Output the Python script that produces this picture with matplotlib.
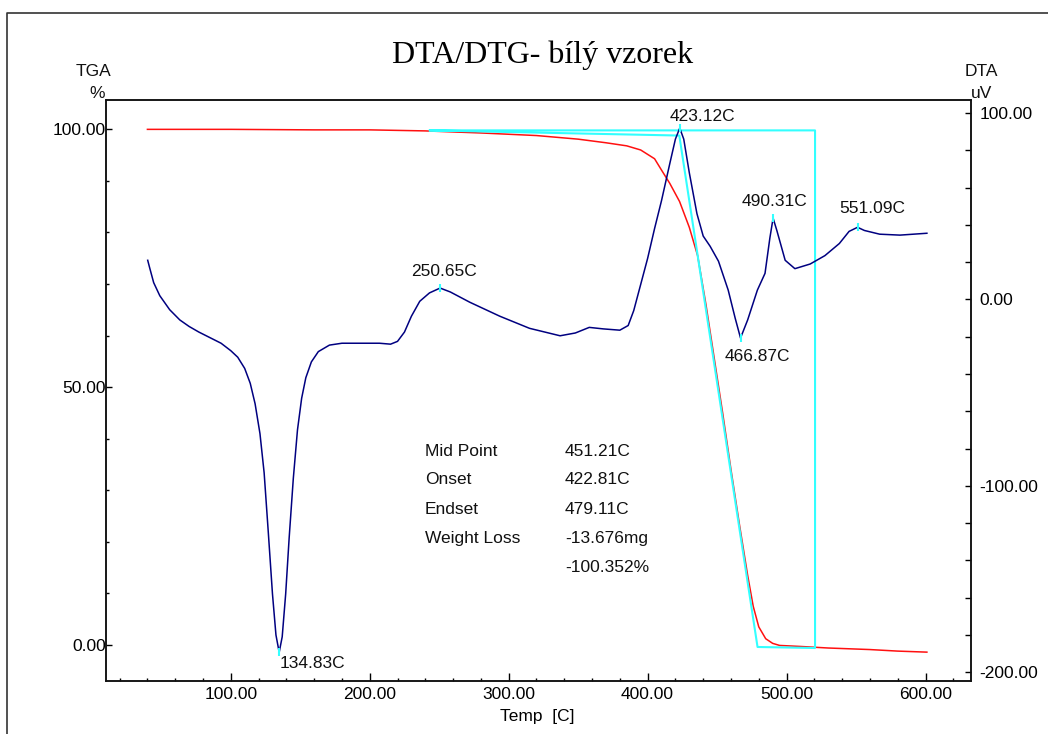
import matplotlib
matplotlib.use("Agg")
import matplotlib.pyplot as plt
from matplotlib.lines import Line2D
from matplotlib.ticker import MultipleLocator

plt.rcParams['font.family'] = ['Liberation Sans', 'DejaVu Sans']

# TGA curve (left axis, %)
tga_temp = [40, 100, 160, 200, 240, 280, 320, 350, 370, 385, 395, 405, 410, 416,
            423, 430, 436, 442, 448, 454, 460, 466, 472, 476, 480, 485, 490, 495,
            510, 530, 560, 580, 601]
tga_val = [100, 100, 99.9, 99.9, 99.7, 99.3, 98.8, 98.1, 97.4, 96.8, 96.0, 94.3, 92.1, 89.5,
           86.0, 81.0, 75.5, 66.0, 55.5, 45.0, 34.0, 23.5, 13.5, 7.5, 3.5, 1.2, 0.3, -0.1,
           -0.3, -0.6, -0.9, -1.2, -1.4]

# DTA curve (right axis, uV)
dta_temp = [40.2, 41.6, 44.5, 48.9, 56, 63.3, 70, 77, 85, 93, 100, 105, 110, 114, 117.5,
            121, 124, 127, 130, 132.5, 134.83, 137, 139.5, 142, 145, 148, 151, 154, 158,
            163, 171, 180, 195, 207, 215, 220, 225, 230, 236, 243, 250.65, 258, 272,
            293.6, 315, 337, 348, 358, 368, 380, 386, 390, 395, 400, 405, 410, 416, 420,
            423.12, 426, 430, 435.5, 440, 445, 451, 458, 463, 466.87, 472, 479, 484.5,
            488, 490.31, 493, 499, 506, 517, 527.6, 538, 545, 551.09, 556, 567, 581.6, 601]
dta_val = [21, 17, 9, 2, -5.5, -11, -14.5, -17.5, -20.5, -23.5, -27.5, -31, -37, -45, -56,
           -72, -93, -125, -158, -180, -189.3, -181, -158, -128, -96, -70, -53, -42, -33.5,
           -28, -24.5, -23.5, -23.5, -23.5, -24, -22.5, -17.5, -9, -1, 3.5, 6.1, 4, -1.5,
           -9, -15.5, -19.5, -18, -15, -15.8, -16.5, -14, -6, 8, 22, 38, 53, 73, 86,
           91.9, 86, 68, 46, 34, 28.5, 20.5, 5, -10, -20.7, -11, 5, 14,
           33, 43.6, 37, 21, 16.5, 19, 23.5, 30, 36.5, 38.7, 37, 35, 34.5, 35.5]

# weight loss analysis lines (cyan, left axis)
step_temp = [243.3, 422.81, 479.11, 520.5, 520.5, 243.3]
step_val = [99.8, 98.8, -0.4, -0.6, 99.8, 99.8]

# DTA peaks
peak_temp = [134.83, 250.65, 423.12, 466.87, 490.31, 551.09]
peak_val = [-189.3, 6.1, 91.9, -20.7, 43.6, 38.7]
peak_text = ["134.83C", "250.65C", "423.12C", "466.87C", "490.31C", "551.09C"]

stat_names = ["Mid Point", "Onset", "Endset", "Weight Loss", ""]
stat_values = ["451.21C", "422.81C", "479.11C", "-13.676mg", "-100.352%"]

fig = plt.figure(figsize=(10.48, 7.34), dpi=100)
ax1 = fig.add_axes([0.1009, 0.0722, 0.8253, 0.7916])
ax2 = ax1.twinx()

ax1.plot(tga_temp, tga_val, color="#ff1010", linewidth=1.1, zorder=2)
ax1.plot(step_temp, step_val, color="#33ffff", linewidth=1.5, zorder=3)
ax2.plot(dta_temp, dta_val, color="#000080", linewidth=1.1, zorder=2)
ax2.plot(peak_temp, peak_val, linestyle="none", marker="|", markersize=6,
         markeredgewidth=1.5, color="#33ffff", zorder=3)

# label offsets in pixels (text centre relative to peak)
offsets = [(33, -11), (4, 17), (23, 12), (17, -18), (1, 17), (15, 19)]
for t, v, s, (dx, dy) in zip(peak_temp, peak_val, peak_text, offsets):
    ax2.annotate(s, (t, v), xytext=(dx, dy), textcoords="offset pixels",
                 ha="center", va="center", fontsize=12.5, color="#111111")

ax1.set_xlim(10, 632.5)
ax1.set_ylim(-7.0, 105.7)
ax2.set_ylim(-204.7, 107)

ax1.set_xticks([100, 200, 300, 400, 500, 600])
ax1.set_xticklabels(["100.00", "200.00", "300.00", "400.00", "500.00", "600.00"])
ax1.xaxis.set_minor_locator(MultipleLocator(20))
ax1.set_yticks([0, 50, 100])
ax1.set_yticklabels(["0.00", "50.00", "100.00"])
ax1.yaxis.set_minor_locator(MultipleLocator(10))
ax2.set_yticks([-200, -100, 0, 100])
ax2.set_yticklabels(["-200.00", "-100.00", "0.00", "100.00"])
ax2.yaxis.set_minor_locator(MultipleLocator(20))

ax1.tick_params(axis="x", which="major", direction="in", length=5.5, width=1, pad=4, labelsize=12.5)
ax1.tick_params(axis="x", which="minor", direction="in", length=2.5, width=1)
ax1.tick_params(axis="y", which="major", direction="in", length=4.5, width=1, pad=0, labelsize=12.5)
ax1.tick_params(axis="y", which="minor", direction="in", length=2.5, width=1)
ax2.tick_params(axis="y", which="major", direction="in", length=4.5, width=1, pad=6.5, labelsize=12.5)
ax2.tick_params(axis="y", which="minor", direction="in", length=4.5, width=1)

for a in (ax1, ax2):
    for sp in a.spines.values():
        sp.set_linewidth(1.1)
        sp.set_color("#111111")

ax1.set_xlabel("Temp  [C]", fontsize=12.5)
ax1.xaxis.set_label_coords(0.4986, -0.048)

fig.text(94 / 1048, 1 - 72 / 734, "TGA", ha="center", va="center", fontsize=12.5, color="#111111")
fig.text(97 / 1048, 1 - 93 / 734, "%", ha="center", va="center", fontsize=12.5, color="#111111")
fig.text(981 / 1048, 1 - 72 / 734, "DTA", ha="center", va="center", fontsize=12.5, color="#111111")
fig.text(982 / 1048, 1 - 93 / 734, "uV", ha="center", va="center", fontsize=12.5, color="#111111")
fig.text(0.5177, 1 - 55 / 734, "DTA/DTG- bílý vzorek", ha="center", va="center",
         fontsize=23, family=["Liberation Serif", "DejaVu Serif"])

for i, (n, v) in enumerate(zip(stat_names, stat_values)):
    y = 1 - (451 + 29 * i) / 734
    fig.text(425 / 1048, y, n, ha="left", va="center", fontsize=12.5, color="#111111")
    fig.text(565 / 1048, y, v, ha="left", va="center", fontsize=12.5, color="#111111")

# outer frame
fig.add_artist(Line2D([7 / 1048, 7 / 1048, 1.0], [0.0, 1 - 13 / 734, 1 - 13 / 734],
                      transform=fig.transFigure, color="#333333", linewidth=1.2))

fig.savefig("out.png", dpi=100)
